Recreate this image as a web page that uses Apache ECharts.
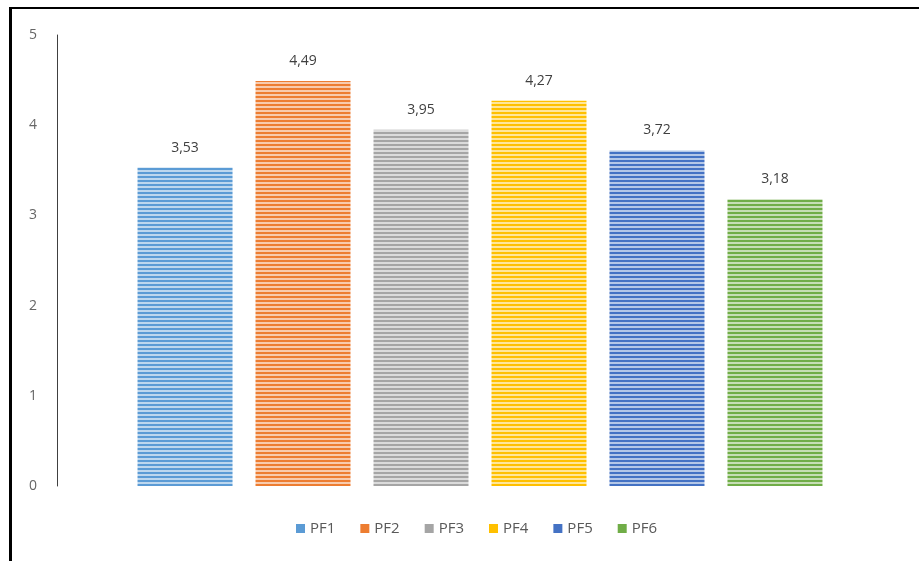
<!DOCTYPE html>
<html>
<head>
<meta charset="utf-8">
<script src="https://cdn.jsdelivr.net/npm/echarts@6/dist/echarts.min.js"></script>
<style>
    html, body { margin: 0; padding: 0; background: #fff; }
    #wrap { position: relative; width: 919px; height: 561px; }
    #chart { width: 919px; height: 561px; }
    #frame {
        position: absolute; left: 9px; top: 7px; right: 0; bottom: 0;
        border-top: 2px solid #000; border-left: 3px solid #000;
        pointer-events: none;
    }
</style>
</head>
<body>
<div id="wrap">
    <div id="chart"></div>
    <div id="frame"></div>
</div>
<script>
// data
const names = ['PF1', 'PF2', 'PF3', 'PF4', 'PF5', 'PF6'];
const values = [3.53, 4.49, 3.95, 4.27, 3.72, 3.18];
const colors = ['#5B9BD5', '#ED7D31', '#A5A5A5', '#FFC000', '#4472C4', '#70AD47'];
const yTicks = [0, 1, 2, 3, 4, 5];

// narrow horizontal stripe fill, like the excel pattern
const lighten = (hex, k) => {
    const n = parseInt(hex.slice(1), 16);
    const r = (n >> 16) & 255, g = (n >> 8) & 255, b = n & 255;
    const mix = c => Math.round(c + (255 - c) * k);
    return 'rgb(' + mix(r) + ',' + mix(g) + ',' + mix(b) + ')';
};
const stripes = (hex) => {
    const c = document.createElement('canvas');
    c.width = 4;
    c.height = 4;
    const ctx = c.getContext('2d');
    ctx.fillStyle = hex;
    ctx.fillRect(0, 0, 4, 2);
    ctx.fillStyle = lighten(hex, 0.6);
    ctx.fillRect(0, 2, 4, 2);
    return { image: c, repeat: 'repeat' };
};

const font = '"Open Sans", sans-serif';

const chart = echarts.init(document.getElementById('chart'));
chart.setOption({
    animation: false,
    grid: { left: 57, right: 16, top: 35, bottom: 75 },
    legend: {
        bottom: 20,
        left: 291,
        itemWidth: 9,
        itemHeight: 9,
        itemGap: 25,
        icon: 'rect',
        textStyle: { color: '#595959', fontSize: 15, fontFamily: font },
        data: names.map((n, i) => ({ name: n, itemStyle: { color: colors[i] } }))
    },
    xAxis: {
        type: 'category',
        data: [''],
        show: false
    },
    yAxis: {
        type: 'value',
        min: yTicks[0],
        max: yTicks[yTicks.length - 1],
        interval: 1,
        axisLine: { show: true, lineStyle: { color: '#404040', width: 1 } },
        axisTick: { show: false },
        splitLine: { show: false },
        axisLabel: { margin: 20, color: '#666666', fontSize: 14, fontFamily: font }
    },
    series: names.map((n, i) => ({
        name: n,
        type: 'bar',
        barWidth: 95,
        barGap: '24.2%',
        data: [values[i]],
        itemStyle: { color: stripes(colors[i]) },
        label: {
            show: true,
            position: 'top',
            distance: 13,
            color: '#404040',
            fontSize: 14,
            fontFamily: font,
            formatter: p => p.value.toFixed(2).replace('.', ',')
        }
    }))
});
</script>
</body>
</html>
